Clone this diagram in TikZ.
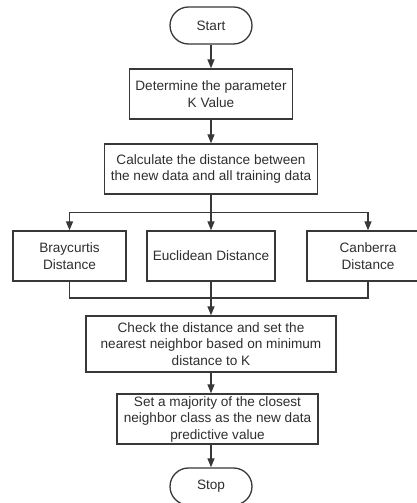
\documentclass[tikz,border=0pt]{standalone}
\usepackage{fontspec}
\setmainfont{Liberation Sans}
\usetikzlibrary{arrows.meta}
\begin{document}
\begin{tikzpicture}[draw=black!78, text=black!82, align=center, x=1pt, y=1pt, line width=1.3pt, >={Triangle[length=9pt,width=7pt]}]
    \tikzstyle{every node}=[inner sep=0pt, font=\fontsize{13.6}{16.5}\selectfont];
    \tikzstyle{box}=[draw, rectangle, minimum height=50];
    \tikzstyle{term}=[draw, rectangle, rounded corners=18.5, minimum width=82, minimum height=37];
    \useasboundingbox (0,0) rectangle (416,503);

    \node at (211, 477.5) (start) [term] {Start};
    \node at (211, 409) (kval) [box, minimum width=163] {Determine the parameter\\K Value};
    \node at (211, 334) (calc) [box, minimum width=213] {Calculate the distance between\\the new data and all training data};
    \node at (69.5, 247) (bray) [box, minimum width=113] {Braycurtis\\Distance};
    \node at (211, 247) (eucl) [box, minimum width=128] {Euclidean Distance};
    \node at (368, 247) (canb) [box, minimum width=122] {Canberra\\Distance};
    \node at (211, 159) (check) [box, minimum width=250, minimum height=56] {Check the distance and set the\\nearest neighbor based on minimum\\distance to K};
    \node at (217.5, 84) (vote) [box, minimum width=201] {Set a majority of the closest\\neighbor class as the new data\\predictive value};
    \node at (211, 16.5) (stop) [term] {Stop};
    \coordinate (split) at (211, 290.5);
    \coordinate (join) at (211, 205);

    \draw[->] (start) -- (kval);
    \draw[->] (kval) -- (calc);
    \draw[->] (calc) -- (eucl);
    \draw[->] (split) -| (bray);
    \draw[->] (split) -| (canb);
    \draw (bray) |- (join);
    \draw (canb) |- (join);
    \draw[->] (eucl) -- (check);
    \draw[->] (check.south) -- (check.south |- vote.north);
    \draw[->] (vote.south -| stop) -- (stop);
\end{tikzpicture}
\end{document}
